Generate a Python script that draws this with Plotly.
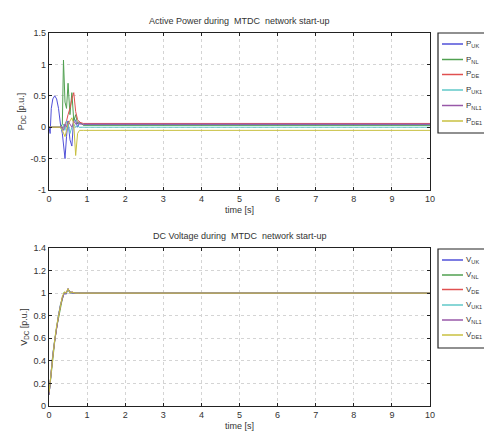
import plotly.graph_objects as go

# ---- data ----
t_p = [0, 0.03, 0.06, 0.1, 0.15, 0.2, 0.25, 0.3, 0.35, 0.38, 0.42, 0.46, 0.5, 0.55, 0.6, 0.65, 0.7, 0.75, 0.8, 0.9, 1.0, 10]
P_UK  = [0, -0.1, 0.3, 0.45, 0.5, 0.45, 0.3, 0.05, -0.1, -0.3, -0.5, -0.15, 0.1, -0.2, -0.3, 0.15, 0.1, 0.0, 0.07, 0.04, 0.04, 0.04]
P_NL  = [0, 0, 0, 0, 0, 0, 0, 0, 0.05, 1.07, 0.4, 0.3, 0.7, 0.2, 0.55, 0.1, 0.2, 0.05, 0.09, 0.03, 0.03, 0.03]
P_DE  = [0, 0, 0, 0, 0, 0, 0, 0, 0, 0.0, 0.05, 0.1, 0.2, 0.3, 0.45, 0.55, 0.25, 0.12, 0.08, 0.06, 0.06, 0.06]
P_UK1 = [0, 0, 0, 0, 0, 0, 0, 0, -0.05, 0.05, -0.05, 0.1, 0.05, -0.1, 0.0, 0.05, 0.0, 0.02, 0.0, 0.0, 0.0, 0.0]
P_NL1 = [0, 0, 0, 0, 0, 0, 0, 0, 0, -0.05, 0.05, 0.0, 0.1, 0.05, 0.0, 0.1, 0.05, 0.08, 0.05, 0.05, 0.05, 0.05]
P_DE1 = [0, 0, 0, 0, 0, 0, 0, 0, -0.05, -0.1, -0.15, -0.05, 0.05, 0.1, 0.15, 0.05, -0.45, -0.1, -0.05, -0.05, -0.05, -0.05]

t_v = [0, 0.05, 0.1, 0.15, 0.2, 0.25, 0.3, 0.35, 0.4, 0.45, 0.5, 0.55, 0.6, 0.7, 0.8, 10]
V_UK  = [0.1, 0.3, 0.45, 0.58, 0.7, 0.8, 0.89, 0.96, 1.0, 0.99, 1.04, 1.0, 1.01, 1.0, 1.0, 1.0]
V_NL  = [0.1, 0.28, 0.44, 0.57, 0.69, 0.79, 0.88, 0.95, 1.01, 1.0, 1.03, 1.01, 1.0, 1.0, 1.0, 1.0]
V_DE  = [0.1, 0.29, 0.45, 0.58, 0.7, 0.8, 0.89, 0.96, 1.0, 1.01, 1.03, 1.0, 1.01, 1.0, 1.0, 1.0]
V_UK1 = [0.1, 0.3, 0.46, 0.59, 0.71, 0.81, 0.9, 0.96, 1.0, 1.0, 1.03, 1.0, 1.0, 1.0, 1.0, 1.0]
V_NL1 = [0.1, 0.29, 0.45, 0.58, 0.7, 0.8, 0.89, 0.95, 1.0, 1.0, 1.04, 1.01, 1.0, 1.0, 1.0, 1.0]
V_DE1 = [0.12, 0.3, 0.46, 0.59, 0.71, 0.81, 0.9, 0.97, 1.01, 1.0, 1.04, 1.0, 1.01, 1.0, 1.0, 1.0]

p_names = ["P<sub>UK</sub>", "P<sub>NL</sub>", "P<sub>DE</sub>", "P<sub>UK1</sub>", "P<sub>NL1</sub>", "P<sub>DE1</sub>"]
v_names = ["V<sub>UK</sub>", "V<sub>NL</sub>", "V<sub>DE</sub>", "V<sub>UK1</sub>", "V<sub>NL1</sub>", "V<sub>DE1</sub>"]
colors = ["#5050d8", "#50a050", "#e05050", "#60c8c8", "#9858a8", "#c8c040"]

x_ticks = list(range(0, 11))
p_ticks = [-1, -0.5, 0, 0.5, 1, 1.5]
v_ticks = [0, 0.2, 0.4, 0.6, 0.8, 1, 1.2, 1.4]

FONT = "Liberation Sans"
TXT = "#333"

# page is drawn with an 8px body margin; figure sized to fit the window
W, H = 484, 427
L, R, T, B = 41, 62, 25, 29
PW = W - L - R
PH = H - T - B


def px(x):   # page pixel x -> paper x
    return (x - 8 - L) / PW


def py(y):   # page pixel y -> paper y
    return (H - B - (y - 8)) / PH


fig = go.Figure()

for name, ys, c in zip(p_names, [P_UK, P_NL, P_DE, P_UK1, P_NL1, P_DE1], colors):
    fig.add_trace(go.Scatter(x=t_p, y=ys, mode="lines", name=name, showlegend=False,
                             line=dict(color=c, width=1), xaxis="x", yaxis="y"))
for name, ys, c in zip(v_names, [V_UK, V_NL, V_DE, V_UK1, V_NL1, V_DE1], colors):
    fig.add_trace(go.Scatter(x=t_v, y=ys, mode="lines", name=name, showlegend=False,
                             line=dict(color=c, width=1), xaxis="x2", yaxis="y2"))

ax_common = dict(showline=True, linecolor="#222", linewidth=1.2, mirror="ticks",
                 ticks="inside", ticklen=3, tickcolor="#222", automargin=False,
                 showgrid=True, gridcolor="#d4d4d4", griddash="dot", gridwidth=1,
                 zeroline=False, tickfont=dict(family=FONT, size=9, color=TXT))

shapes = []
annotations = []

# manual legends (MATLAB style, box runs off the right edge)
legend_specs = [
    (p_names, 33, 133, [44, 59.5, 74.5, 90, 105.5, 121]),
    (v_names, 249, 348, [260, 275, 289.5, 305, 320, 335]),
]
for names, top, bot, ys in legend_specs:
    shapes.append(dict(type="rect", xref="paper", yref="paper",
                       x0=px(438), x1=px(520), y0=py(bot), y1=py(top),
                       line=dict(color="#222", width=1.2), fillcolor="white", layer="above"))
    for name, c, yy in zip(names, colors, ys):
        shapes.append(dict(type="line", xref="paper", yref="paper",
                           x0=px(442), x1=px(463), y0=py(yy), y1=py(yy),
                           line=dict(color=c, width=1.5), layer="above"))
        annotations.append(dict(text=name, x=px(464), y=py(yy), xref="paper", yref="paper",
                                xanchor="left", yanchor="middle", showarrow=False,
                                font=dict(family=FONT, size=8, color=TXT)))

annotations += [
    dict(text="Active Power during  MTDC  network start-up", x=0.5, y=1.0, xref="paper", yref="paper",
         xanchor="center", yanchor="bottom", yshift=5, showarrow=False, font=dict(family=FONT, size=9, color=TXT)),
    dict(text="DC Voltage during  MTDC  network start-up", x=0.5, y=0.4236, xref="paper", yref="paper",
         xanchor="center", yanchor="bottom", yshift=5, showarrow=False, font=dict(family=FONT, size=9, color=TXT)),
]

fig.update_layout(
    width=W, height=H,
    margin=dict(l=L, r=R, t=T, b=B, autoexpand=False),
    paper_bgcolor="white", plot_bgcolor="white",
    font=dict(family=FONT, size=9, color=TXT),
    showlegend=False,
    xaxis=dict(domain=[0, 1], range=[0, 10], tickvals=x_ticks, anchor="y",
               title=dict(text="time [s]", standoff=3, font=dict(size=9)), **ax_common),
    yaxis=dict(domain=[0.579, 1], range=[-1, 1.5], tickvals=p_ticks,
               ticktext=["-1", "-0.5", "0", "0.5", "1", "1.5"], anchor="x",
               title=dict(text="P<sub>DC</sub> [p.u.]", standoff=4, font=dict(size=9)), **ax_common),
    xaxis2=dict(domain=[0, 1], range=[0, 10], tickvals=x_ticks, anchor="y2",
                title=dict(text="time [s]", standoff=3, font=dict(size=9)), **ax_common),
    yaxis2=dict(domain=[0, 0.4236], range=[0, 1.4], tickvals=v_ticks,
                ticktext=["0", "0.2", "0.4", "0.6", "0.8", "1", "1.2", "1.4"], anchor="x2",
                title=dict(text="V<sub>DC</sub> [p.u.]", standoff=4, font=dict(size=9)), **ax_common),
    shapes=shapes,
    annotations=annotations,
)

fig.write_html("out.html")
